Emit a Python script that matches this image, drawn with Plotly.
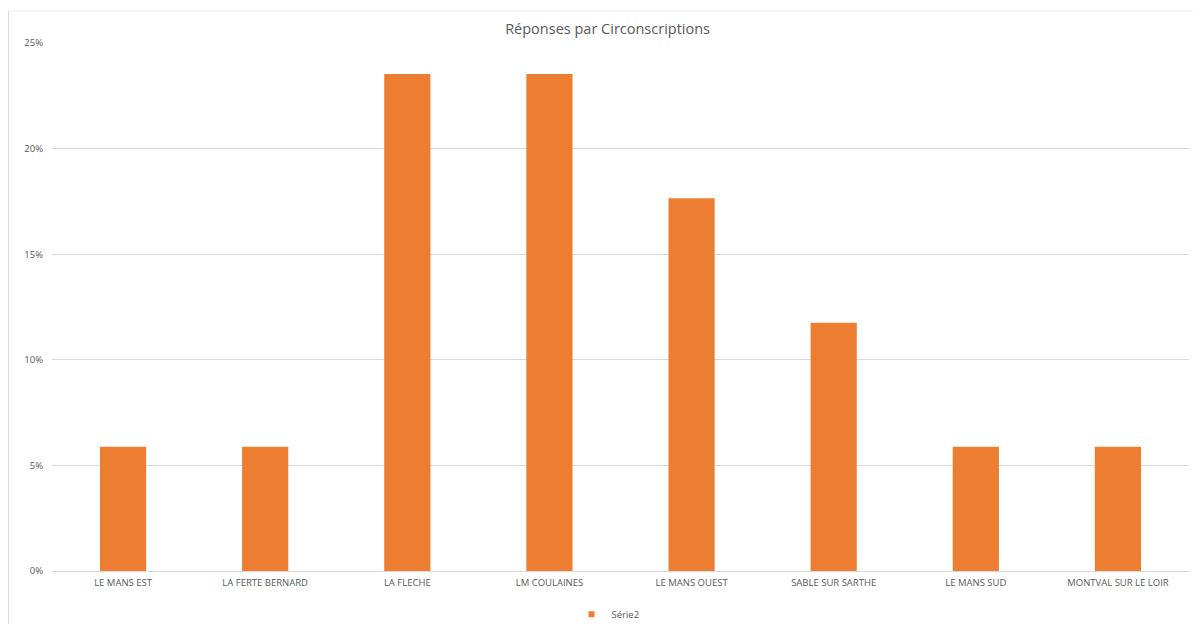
import plotly.graph_objects as go

categories = ["LE MANS EST", "LA FERTE BERNARD", "LA FLECHE", "LM COULAINES",
              "LE MANS OUEST", "SABLE SUR SARTHE", "LE MANS SUD", "MONTVAL SUR LE LOIR"]
values = [0.0588, 0.0588, 0.2353, 0.2353, 0.1765, 0.1176, 0.0588, 0.0588]
series_name = "Série2"
tick_vals = [0, 0.05, 0.10, 0.15, 0.20, 0.25]
tick_text = ["0%", "5%", "10%", "15%", "20%", "25%"]
bar_color = "#ED7D31"

fig = go.Figure()
fig.add_trace(go.Bar(x=categories, y=values, name=series_name, showlegend=False,
                     marker=dict(color=bar_color, line=dict(width=0))))
# legend entry with a small square swatch
fig.add_trace(go.Scatter(x=[None], y=[None], mode="markers", name=series_name,
                         marker=dict(symbol="square", size=6, color=bar_color)))

fig.update_layout(
    width=1185, height=616,
    margin=dict(l=44, r=4, t=35, b=53, autoexpand=False),
    paper_bgcolor="white", plot_bgcolor="white",
    font=dict(family="Open Sans, Liberation Sans, sans-serif", color="#595959", size=9),
    title=dict(text="Réponses par Circonscriptions", x=0.506, xanchor="center",
               y=1 - 21 / 616, yanchor="middle", font=dict(size=14.5, color="#595959")),
    bargap=0.675,
    showlegend=True,
    legend=dict(orientation="h", x=0.489, xanchor="center", y=0.016, yanchor="middle",
                yref="container", font=dict(size=9.5, color="#595959"),
                itemwidth=30, tracegroupgap=0),
    xaxis=dict(showgrid=False, showline=True, linecolor="#D9D9D9", linewidth=1,
               ticks="", tickfont=dict(size=9.5, color="#595959"), automargin=False,
               ticklabelstandoff=3),
    yaxis=dict(range=[0, 0.25], tickvals=tick_vals, ticktext=tick_text,
               showgrid=True, gridcolor="#D9D9D9", gridwidth=1, zeroline=False,
               showline=False, ticks="", tickfont=dict(size=9.5, color="#595959"),
               automargin=False, ticklabelstandoff=8),
    shapes=[
        dict(type="line", xref="paper", yref="paper", x0=-0.0383, x1=-0.0383, y0=1.0606, y1=-0.2,
             line=dict(color="#D9D9D9", width=1)),
        dict(type="line", xref="paper", yref="paper", x0=-0.0383, x1=1.02, y0=1.0606, y1=1.0606,
             line=dict(color="#EDEDED", width=1)),
    ],
)

fig.write_html("out.html")
